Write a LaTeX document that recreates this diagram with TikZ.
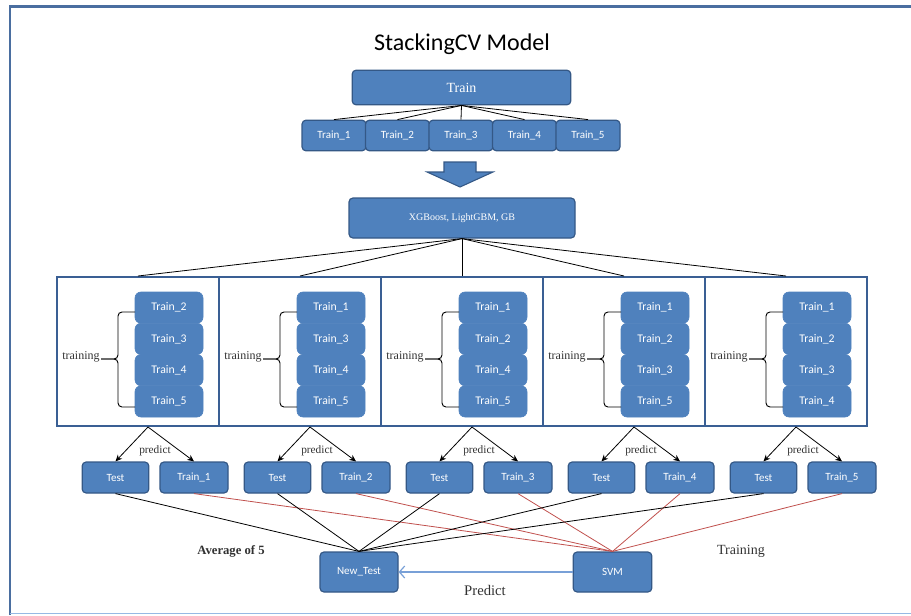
\documentclass[tikz,border=0pt]{standalone}
\usepackage{fontspec}
\setmainfont{Liberation Serif}
\newfontfamily\calfont{Carlito}
\usetikzlibrary{arrows.meta}
\definecolor{boxfill}{RGB}{79,129,189}
\definecolor{boxedge}{RGB}{52,88,134}
\definecolor{foldedge}{RGB}{58,95,148}
\definecolor{redln}{RGB}{192,80,77}
\definecolor{predblue}{RGB}{120,160,215}
\definecolor{framebl}{RGB}{74,110,160}
\definecolor{framelight}{RGB}{150,185,228}
\definecolor{txtgray}{RGB}{50,50,50}
\begin{document}
\begin{tikzpicture}[x=0.75pt,y=-0.75pt,
  blk/.style={draw=boxedge,fill=boxfill,rounded corners=3pt,line width=0.9pt,text=white,inner sep=0pt,font=\calfont\fontsize{8.3}{9}\selectfont},
  inner/.style={draw=boxfill,fill=boxfill,rounded corners=4.5pt,line width=0.5pt,text=white,inner sep=0pt,minimum width=51pt,minimum height=23.4pt,font=\calfont\fontsize{8.8}{9}\selectfont},
  fold/.style={draw=foldedge,line width=1.5pt,minimum width=121.5pt,minimum height=111.75pt,inner sep=0pt},
  ln/.style={draw=black,line width=0.6pt},
  rln/.style={draw=redln,line width=0.6pt},
  arr/.style={draw=black,line width=0.6pt,-{Stealth[length=5pt,width=4.5pt]}},
  lbl/.style={text=txtgray,inner sep=0pt}
]
\useasboundingbox (0,0) rectangle (911,615);
% outer frame
\draw[framebl,line width=2.2pt] (10,615) -- (10,6.5) -- (911,6.5);
\draw[framelight,line width=1.2pt] (10,613.5) -- (911,613.5);

\node[inner sep=0pt,font=\calfont\fontsize{18}{20}\selectfont] (title) at (462,44) {StackingCV Model};

\node[blk,minimum width=164pt,minimum height=26pt,font=\fontsize{10.5}{12}\selectfont] (train) at (461.5,87.5) {Train};
\foreach \i/\x in {1/334,2/397.5,3/461,4/524.5,5/588}{
  \node[blk,minimum width=48pt,minimum height=23pt] (t0\i) at (\x,135.5) {Train\_\i};
}
\foreach \i in {1,...,5}{ \draw[ln] (train.south) -- (t0\i.north); }

% block arrow
\draw[boxedge,fill=boxfill,line width=0.8pt] (444,162) -- (476,162) -- (476,172) -- (493,172) -- (460,187) -- (427,172) -- (444,172) -- cycle;

\node[blk,minimum width=169.5pt,minimum height=30pt,font=\fontsize{7.5}{8}\selectfont] (xg) at (462,218) {XGBoost, LightGBM, GB};

\node[blk,minimum width=58.5pt,minimum height=30pt] (nt) at (359,572) {New\_Test};
\node[blk,minimum width=59pt,minimum height=30pt] (svm) at (612.5,572) {SVM};

\foreach \k/\a/\b/\c/\d in {1/2/3/4/5,2/1/3/4/5,3/1/2/4/5,4/1/2/3/5,5/1/2/3/4}{
  \pgfmathsetmacro\L{57+162*(\k-1)}
  \node[fold] (f\k) at ({\L+81},351.5) {};
  \draw[ln] (xg.south) -- (f\k.north);
  \node[inner] (ia\k) at ({\L+112},307.6) {Train\_\a};
  \node[inner] (ib\k) at ({\L+112},338.9) {Train\_\b};
  \node[inner] (ic\k) at ({\L+112},370.1) {Train\_\c};
  \node[inner] (id\k) at ({\L+112},401.4) {Train\_\d};
  \coordinate (bt\k) at ({\L+44},359);
  \draw[line width=0.7pt,rounded corners=3pt] ({\L+78},312) -| ({\L+61},359) -- (bt\k);
  \draw[line width=0.7pt,rounded corners=3pt] ({\L+78},407) -| ({\L+61},359) -- (bt\k);
  \node[lbl,font=\fontsize{9}{10}\selectfont] (tr\k) at ({\L+24},357) {training};
  \node[blk,minimum width=50pt,minimum height=23.25pt] (te\k) at ({\L+58.5},477.5) {Test};
  \node[blk,minimum width=51pt,minimum height=23.25pt] (rt\k) at ({\L+137},477.5) {Train\_\k};
  \coordinate (ap\k) at ({\L+91},427);
  \draw[arr] (ap\k) -- (te\k.north);
  \draw[arr] (ap\k) -- (rt\k.north);
  \node[lbl,font=\fontsize{8.5}{9}\selectfont] (pr\k) at ({\L+98},451) {predict};
  \draw[ln] (te\k.south) -- (nt.north);
  \draw[rln] (rt\k.south) -- (svm.north);
}

\draw[predblue,line width=0.9pt,-{Straight Barb[length=4pt,width=9pt]}] (svm.west) -- (nt.east);
\node[lbl,font=\bfseries\fontsize{9.5}{12}\selectfont] (avg) at (231,551) {Average of 5};
\node[lbl,font=\fontsize{10.5}{12}\selectfont] (trn) at (741,551) {Training};
\node[lbl,font=\fontsize{11}{12}\selectfont] (pred) at (485,590) {Predict};
\end{tikzpicture}
\end{document}
